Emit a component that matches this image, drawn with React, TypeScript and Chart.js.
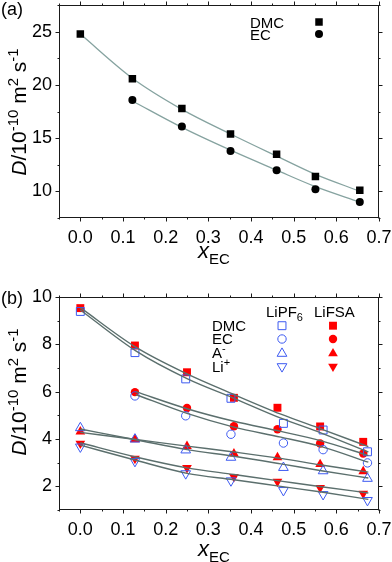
import React, { useEffect, useRef } from 'react';
import { Chart, registerables } from 'chart.js';

Chart.register(...registerables);

const FONT = "'Liberation Sans', Arial, Helvetica, sans-serif";
const RED = '#ff0000';
const BLUE = '#3d5af1';
const LINE_A = '#86a3a0';
const LINE_B = '#5b6f6d';

// ---------- Panel (a) ----------
const A_X_DMC = [0.0, 0.122, 0.238, 0.352, 0.46, 0.551, 0.655];
const A_DMC = [24.8, 20.6, 17.8, 15.4, 13.5, 11.4, 10.1];
const A_DMC_FIT = [24.8, 20.65, 17.72, 15.4, 13.32, 11.6, 10.02];
const A_X_EC = [0.122, 0.238, 0.352, 0.46, 0.551, 0.655];
const A_EC = [18.6, 16.1, 13.8, 12.0, 10.2, 9.0];
const A_EC_FIT = [18.5, 16.02, 13.88, 12.0, 10.45, 9.0];

const X_TICKS = [0, 0.1, 0.2, 0.3, 0.4, 0.5, 0.6, 0.7];
const X_MINOR = [-0.05, 0.05, 0.15, 0.25, 0.35, 0.45, 0.55, 0.65];
const A_Y_TICKS = [10, 15, 20, 25];
const A_Y_MINOR = [7.5, 12.5, 17.5, 22.5, 27.5];

// ---------- Panel (b) ----------
const B_X_FSA = [0.0, 0.128, 0.25, 0.36, 0.462, 0.562, 0.663];
const B_X_PF6 = [0.0, 0.128, 0.247, 0.353, 0.476, 0.569, 0.673];
const B_X_FIT = [0.0, 0.13, 0.25, 0.36, 0.47, 0.565, 0.675];
const B_X_FSA_EC = [0.128, 0.25, 0.36, 0.462, 0.562, 0.663];
const B_X_PF6_EC = [0.128, 0.247, 0.353, 0.476, 0.569, 0.673];
const B_X_FIT_EC = [0.13, 0.25, 0.36, 0.47, 0.565, 0.675];

const DMC_FSA = [9.53, 7.95, 6.82, 5.74, 5.32, 4.53, 3.88];
const DMC_PF6 = [9.39, 7.65, 6.54, 5.72, 4.66, 4.38, 3.46];
const EC_FSA = [5.98, 5.31, 4.54, 4.41, 3.81, 3.39];
const EC_PF6 = [5.82, 4.98, 4.2, 3.83, 3.55, 2.99];
const AN_FSA = [4.31, 3.98, 3.7, 3.38, 3.22, 2.93, 2.63];
const AN_PF6 = [4.47, 3.99, 3.53, 3.22, 2.79, 2.65, 2.33];
const LI_FSA = [3.81, 3.17, 2.78, 2.4, 2.2, 1.94, 1.69];
const LI_PF6 = [3.67, 3.06, 2.54, 2.24, 1.83, 1.66, 1.41];

const DMC_FSA_FIT = [9.55, 7.88, 6.75, 5.88, 5.05, 4.42, 3.68];
const DMC_PF6_FIT = [9.45, 7.72, 6.55, 5.72, 4.88, 4.25, 3.45];
const EC_FSA_FIT = [6.0, 5.28, 4.75, 4.32, 3.92, 3.3];
const EC_PF6_FIT = [5.88, 5.08, 4.5, 4.08, 3.68, 3.02];
const AN_FSA_FIT = [4.28, 3.98, 3.7, 3.45, 3.18, 2.9, 2.6];
const AN_PF6_FIT = [4.42, 3.97, 3.55, 3.27, 2.95, 2.66, 2.35];
const LI_FSA_FIT = [3.84, 3.24, 2.78, 2.5, 2.22, 1.98, 1.72];
const LI_PF6_FIT = [3.74, 3.1, 2.55, 2.28, 2.0, 1.76, 1.45];

const B_Y_TICKS = [2, 4, 6, 8, 10];
const B_Y_MINOR = [1, 3, 5, 7, 9];

const pts = (xs: number[], ys: number[]) => ys.map((y, i) => ({ x: xs[i], y }));

type Seg = { t: string; size: number; italic?: boolean; dy?: number };
function drawRich(ctx: CanvasRenderingContext2D, segs: Seg[], x: number, y: number, rot = 0, align: 'left' | 'center' = 'left') {
  ctx.save();
  ctx.translate(x, y);
  if (rot) ctx.rotate(rot);
  ctx.textAlign = 'left';
  ctx.textBaseline = 'alphabetic';
  ctx.fillStyle = '#000';
  const fonts = segs.map(s => `${s.italic ? 'italic ' : ''}${s.size}px ${FONT}`);
  const ws = segs.map((s, i) => { ctx.font = fonts[i]; return ctx.measureText(s.t).width; });
  const total = ws.reduce((a, b) => a + b, 0);
  let cx = align === 'center' ? -total / 2 : 0;
  segs.forEach((s, i) => { ctx.font = fonts[i]; ctx.fillText(s.t, cx, s.dy || 0); cx += ws[i]; });
  ctx.restore();
}

function marker(ctx: CanvasRenderingContext2D, style: string, x: number, y: number, r: number, fill: string | null, stroke: string | null, lw = 1) {
  ctx.save();
  ctx.beginPath();
  if (style === 'rect') {
    const s = r * Math.SQRT1_2;
    ctx.rect(x - s, y - s, 2 * s, 2 * s);
  } else if (style === 'circle') {
    ctx.arc(x, y, r, 0, 2 * Math.PI);
  } else {
    let rad = style === 'tri' ? 0 : Math.PI;
    for (let k = 0; k < 3; k++) {
      const px = x + Math.sin(rad) * r;
      const py = y - Math.cos(rad) * r;
      if (k) ctx.lineTo(px, py); else ctx.moveTo(px, py);
      rad += (2 * Math.PI) / 3;
    }
    ctx.closePath();
  }
  if (fill) { ctx.fillStyle = fill; ctx.fill(); }
  if (stroke) { ctx.strokeStyle = stroke; ctx.lineWidth = lw; ctx.stroke(); }
  ctx.restore();
}

function drawFrame(chart: any, yMaj: number[], yMin: number[]) {
  const { ctx, chartArea: a, scales } = chart;
  const L = Math.round(a.left) + 0.5;
  const R = Math.round(a.right) - 0.5;
  const T = Math.round(a.top) + 0.5;
  const B = Math.round(a.bottom) - 0.5;
  ctx.save();
  ctx.strokeStyle = '#1a1a1a';
  ctx.lineWidth = 1;
  ctx.strokeRect(L, T, R - L, B - T);
  ctx.beginPath();
  const tx = (v: number, len: number) => {
    const p = Math.round(scales.x.getPixelForValue(v)) + 0.5;
    ctx.moveTo(p, B); ctx.lineTo(p, B + len);
    ctx.moveTo(p, T); ctx.lineTo(p, T - len);
  };
  const ty = (v: number, len: number) => {
    const p = Math.round(scales.y.getPixelForValue(v)) + 0.5;
    ctx.moveTo(L, p); ctx.lineTo(L - len, p);
    ctx.moveTo(R, p); ctx.lineTo(R + len, p);
  };
  X_TICKS.forEach(v => tx(v, 4));
  X_MINOR.forEach(v => tx(v, 2));
  yMaj.forEach(v => ty(v, 4));
  yMin.forEach(v => ty(v, 2));
  ctx.stroke();
  ctx.restore();
}

const Y_TITLE: Seg[] = [
  { t: 'D', size: 21, italic: true },
  { t: '/10', size: 21 },
  { t: '-10', size: 15, dy: -8 },
  { t: ' m', size: 21 },
  { t: '2', size: 15, dy: -8 },
  { t: ' s', size: 21 },
  { t: '-1', size: 15, dy: -8 },
];
const X_TITLE: Seg[] = [
  { t: 'x', size: 22, italic: true },
  { t: 'EC', size: 15, dy: 6 },
];

function commonScales(yMin: number, yMax: number, yTicks: number[], xHeight: number) {
  const tickFont = { family: FONT, size: 18 };
  return {
    x: {
      type: 'linear',
      min: -0.05,
      max: 0.7,
      grid: { display: false, drawTicks: false },
      border: { display: false },
      afterBuildTicks: (s: any) => { s.ticks = X_TICKS.map(v => ({ value: v })); },
      afterFit: (s: any) => { s.height = xHeight; s.paddingLeft = 0; s.paddingRight = 0; },
      ticks: { padding: 9, color: '#000', font: tickFont, maxRotation: 0, autoSkip: false, callback: (v: any) => Number(v).toFixed(1) },
    },
    y: {
      type: 'linear',
      min: yMin,
      max: yMax,
      grid: { display: false, drawTicks: false },
      border: { display: false },
      afterBuildTicks: (s: any) => { s.ticks = yTicks.map(v => ({ value: v })); },
      afterFit: (s: any) => { s.width = 59; s.paddingTop = 0; s.paddingBottom = 0; },
      ticks: { padding: 7, color: '#000', font: tickFont, autoSkip: false, callback: (v: any) => String(v) },
    },
  };
}

function makeA(): any {
  const decor = {
    id: 'decorA',
    afterDraw(chart: any) {
      const ctx = chart.ctx as CanvasRenderingContext2D;
      drawFrame(chart, A_Y_TICKS, A_Y_MINOR);
      drawRich(ctx, [{ t: '(a)', size: 18 }], 1, 15);
      drawRich(ctx, Y_TITLE, 26, 112, -Math.PI / 2, 'center');
      drawRich(ctx, X_TITLE, 214, 258, 0, 'center');
      drawRich(ctx, [{ t: 'DMC', size: 15 }], 250, 27.5);
      drawRich(ctx, [{ t: 'EC', size: 15 }], 250, 40);
      marker(ctx, 'rect', 319, 22, 5.3, '#000', null);
      marker(ctx, 'circle', 319, 34, 4, '#000', null);
    },
  };
  return {
    type: 'scatter',
    data: {
      datasets: [
        { data: pts(A_X_DMC, A_DMC), pointStyle: 'rect', pointRadius: 5.3, backgroundColor: '#000', borderColor: '#000', borderWidth: 0 },
        { data: pts(A_X_EC, A_EC), pointStyle: 'circle', pointRadius: 4, backgroundColor: '#000', borderColor: '#000', borderWidth: 0 },
        { data: pts(A_X_DMC, A_DMC_FIT), showLine: true, pointRadius: 0, borderColor: LINE_A, borderWidth: 1.3, cubicInterpolationMode: 'monotone' },
        { data: pts(A_X_EC, A_EC_FIT), showLine: true, pointRadius: 0, borderColor: LINE_A, borderWidth: 1.3, cubicInterpolationMode: 'monotone' },
      ],
    },
    options: {
      responsive: false,
      animation: false,
      events: [],
      layout: { padding: { top: 5, right: 13, left: 0, bottom: 0 } },
      plugins: { legend: { display: false }, tooltip: { enabled: false } },
      scales: commonScales(7.5, 27.5, A_Y_TICKS, 62),
    },
    plugins: [decor],
  };
}

function makeB(): any {
  const decor = {
    id: 'decorB',
    afterDraw(chart: any) {
      const ctx = chart.ctx as CanvasRenderingContext2D;
      drawFrame(chart, B_Y_TICKS, B_Y_MINOR);
      drawRich(ctx, [{ t: '(b)', size: 18 }], 1, 24);
      drawRich(ctx, Y_TITLE, 26, 112, -Math.PI / 2, 'center');
      drawRich(ctx, X_TITLE, 214, 276, 0, 'center');
      drawRich(ctx, [{ t: 'LiPF', size: 15 }, { t: '6', size: 11, dy: 4 }], 266, 37);
      drawRich(ctx, [{ t: 'LiFSA', size: 15 }], 314, 37);
      drawRich(ctx, [{ t: 'DMC', size: 15 }], 212, 50.5);
      drawRich(ctx, [{ t: 'EC', size: 15 }], 212, 64);
      drawRich(ctx, [{ t: 'A', size: 15 }, { t: '-', size: 11, dy: -6 }], 212, 77.5);
      drawRich(ctx, [{ t: 'Li', size: 15 }, { t: '+', size: 11, dy: -6 }], 212, 91.5);
      marker(ctx, 'rect', 282, 45.7, 5.6, null, BLUE);
      marker(ctx, 'rect', 333, 45.7, 5.6, RED, null);
      marker(ctx, 'circle', 282, 59, 4.2, null, BLUE);
      marker(ctx, 'circle', 333, 59, 4.2, RED, null);
      marker(ctx, 'tri', 282, 73.5, 5.6, null, BLUE);
      marker(ctx, 'tri', 333, 73.5, 5.6, RED, null);
      marker(ctx, 'triDown', 282, 86.5, 5.6, null, BLUE);
      marker(ctx, 'triDown', 333, 86.5, 5.6, RED, null);
    },
  };
  const fit = (xs: number[], ys: number[]) => ({
    data: pts(xs, ys), showLine: true, pointRadius: 0, borderColor: LINE_B, borderWidth: 1.4, cubicInterpolationMode: 'monotone',
  });
  const filled = (xs: number[], ys: number[], style: string, r: number, rot = 0) => ({
    data: pts(xs, ys), pointStyle: style, pointRadius: r, pointRotation: rot, backgroundColor: RED, borderColor: RED, borderWidth: 0,
  });
  const open = (xs: number[], ys: number[], style: string, r: number, rot = 0) => ({
    data: pts(xs, ys), pointStyle: style, pointRadius: r, pointRotation: rot, backgroundColor: 'rgba(0,0,0,0)', borderColor: BLUE, borderWidth: 1,
  });
  return {
    type: 'scatter',
    data: {
      datasets: [
        fit(B_X_FIT, DMC_FSA_FIT),
        fit(B_X_FIT, DMC_PF6_FIT),
        fit(B_X_FIT_EC, EC_FSA_FIT),
        fit(B_X_FIT_EC, EC_PF6_FIT),
        fit(B_X_FIT, AN_FSA_FIT),
        fit(B_X_FIT, AN_PF6_FIT),
        fit(B_X_FIT, LI_FSA_FIT),
        fit(B_X_FIT, LI_PF6_FIT),
        open(B_X_PF6, DMC_PF6, 'rect', 5.6),
        open(B_X_PF6_EC, EC_PF6, 'circle', 4.2),
        open(B_X_PF6, AN_PF6, 'triangle', 5.6),
        open(B_X_PF6, LI_PF6, 'triangle', 5.6, 180),
        filled(B_X_FSA, DMC_FSA, 'rect', 5.6),
        filled(B_X_FSA_EC, EC_FSA, 'circle', 4.2),
        filled(B_X_FSA, AN_FSA, 'triangle', 5.6),
        filled(B_X_FSA, LI_FSA, 'triangle', 5.6, 180),
      ],
    },
    options: {
      responsive: false,
      animation: false,
      events: [],
      layout: { padding: { top: 17, right: 13, left: 0, bottom: 0 } },
      plugins: { legend: { display: false }, tooltip: { enabled: false } },
      scales: commonScales(1, 10, B_Y_TICKS, 52),
    },
    plugins: [decor],
  };
}

function ChartCanvas({ make, top, height }: { make: () => any; top: number; height: number }) {
  const ref = useRef<HTMLCanvasElement>(null);
  useEffect(() => {
    const chart = new Chart(ref.current as HTMLCanvasElement, make());
    return () => chart.destroy();
  }, []);
  return (
    <canvas
      ref={ref}
      width={392}
      height={height}
      style={{ position: 'absolute', left: 0, top, width: 392, height }}
    />
  );
}

export default function App() {
  return (
    <div style={{ position: 'absolute', left: 0, top: 0, width: 392, height: 562, background: '#fff', overflow: 'hidden' }}>
      <ChartCanvas make={makeA} top={0} height={280} />
      <ChartCanvas make={makeB} top={280} height={282} />
    </div>
  );
}
